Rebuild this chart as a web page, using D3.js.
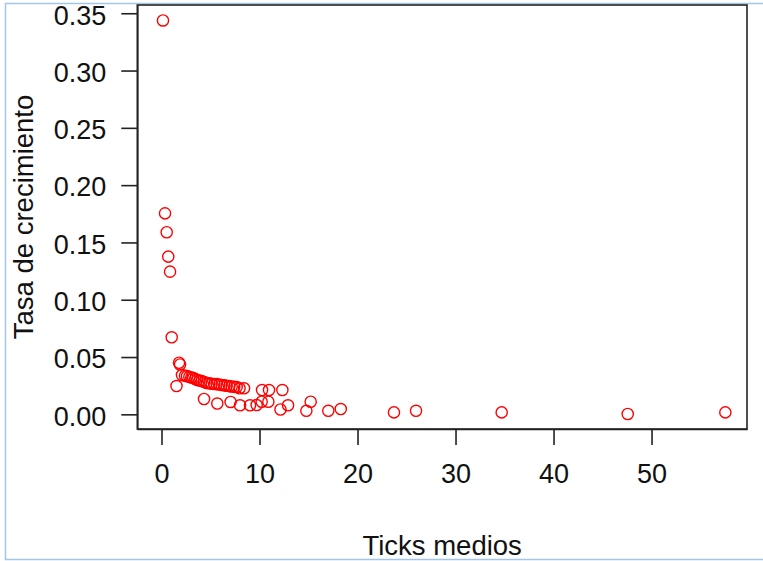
<!DOCTYPE html>
<html lang="es">

<head>
  <meta charset="utf-8">
  <title>Tasa de crecimiento vs Ticks medios</title>
  <script src="https://d3js.org/d3.v7.min.js"></script>
  <style>
    body { margin: 0; background: #fff; }
    text { font-family: "Liberation Sans", Arial, sans-serif; fill: #111; }
  </style>
</head>

<body>

  <svg id="chart" width="763" height="561"></svg>

  <script>
    // ticks medios (eje x)
    const ticksMedios = [
      0.15, 0.36, 0.53, 0.69, 0.87, 1.04, 1.79, 1.89, 2.09, 1.53,
      2.40, 2.60, 2.84, 3.04, 3.24, 3.45, 3.65, 3.88, 4.10, 4.36,
      4.61, 4.87, 5.12, 5.38, 5.63, 5.89, 6.14, 6.40, 6.65, 6.91,
      7.16, 7.42, 7.67, 7.96, 8.42,
      10.26, 10.97, 12.33,
      4.34, 5.69, 7.05, 8.01, 9.03, 9.71, 10.22, 10.90, 12.14, 12.91,
      14.78, 15.22, 17.02, 18.29, 23.72, 25.97, 34.71, 47.57, 57.53
    ];

    // tasa de crecimiento (eje y)
    const tasaCrecimiento = [
      0.3437, 0.1754, 0.1589, 0.1376, 0.1245, 0.0672, 0.0450, 0.0435, 0.0343, 0.0247,
      0.0337, 0.0333, 0.0328, 0.0322, 0.0317, 0.0308, 0.0299, 0.0295, 0.0291, 0.0282,
      0.0273, 0.0271, 0.0267, 0.0265, 0.0264, 0.0260, 0.0256, 0.0253, 0.0250, 0.0246,
      0.0243, 0.0240, 0.0238, 0.0227, 0.0227,
      0.0212, 0.0212, 0.0212,
      0.0134, 0.0094, 0.0108, 0.0079, 0.0079, 0.0081, 0.0110, 0.0110, 0.0042, 0.0079,
      0.0031, 0.0110, 0.0031, 0.0046, 0.0017, 0.0031, 0.0017, 0.0003, 0.0017
    ];

    const xTicks = [0, 10, 20, 30, 40, 50];
    const yTicks = [0, 0.05, 0.10, 0.15, 0.20, 0.25, 0.30, 0.35];

    const puntos = ticksMedios.map((t, i) => ({ x: t, y: tasaCrecimiento[i] }));

    const svg = d3.select("#chart");
    const boxLeft = 137.3, boxRight = 747, boxTop = 5, boxBottom = 429;

    const x = d3.scaleLinear().domain([-2.47, 59.74]).range([boxLeft, boxRight]);
    const y = d3.scaleLinear().domain([-0.0128, 0.3572]).range([boxBottom, boxTop]);

    // marco azul de la captura
    svg.append("path")
      .attr("d", `M763,3.5 H5.5 V559.5 H763`)
      .attr("fill", "none")
      .attr("stroke", "#a3c6e6")
      .attr("stroke-width", 1.5);

    // ejes
    const xAxis = svg.append("g")
      .attr("transform", `translate(0, ${boxBottom})`)
      .call(d3.axisBottom(x).tickValues(xTicks).tickSize(16).tickSizeOuter(0).tickPadding(19));

    const yAxis = svg.append("g")
      .attr("transform", `translate(${boxLeft}, 0)`)
      .call(d3.axisLeft(y).tickValues(yTicks).tickSize(16).tickSizeOuter(0).tickPadding(15)
        .tickFormat(d3.format(".2f")));

    yAxis.selectAll("text").attr("dy", "0.40em");

    [xAxis, yAxis].forEach(g => {
      g.selectAll("path, line").attr("stroke", "#222").attr("stroke-width", 1.6);
      g.selectAll("text").attr("font-size", "27px").attr("fill", "#111")
        .style("font-family", "'Liberation Sans', Arial, sans-serif");
    });

    // caja del gráfico
    svg.append("rect")
      .attr("x", boxLeft)
      .attr("y", boxTop)
      .attr("width", boxRight - boxLeft)
      .attr("height", boxBottom - boxTop)
      .attr("fill", "none")
      .attr("stroke", "#222")
      .attr("stroke-width", 1.6);

    // puntos
    svg.append("g")
      .selectAll("circle")
      .data(puntos)
      .enter()
      .append("circle")
      .attr("cx", d => x(d.x))
      .attr("cy", d => y(d.y))
      .attr("r", 5.6)
      .attr("fill", "none")
      .attr("stroke", "#ff0000")
      .attr("stroke-width", 1.4);

    // títulos
    svg.append("text")
      .attr("x", (boxLeft + boxRight) / 2)
      .attr("y", 555)
      .attr("text-anchor", "middle")
      .attr("font-size", "27.5px")
      .text("Ticks medios");

    svg.append("text")
      .attr("transform", `translate(33, ${(boxTop + boxBottom) / 2}) rotate(-90)`)
      .attr("text-anchor", "middle")
      .attr("font-size", "27.5px")
      .text("Tasa de crecimiento");
  </script>

</body>

</html>
